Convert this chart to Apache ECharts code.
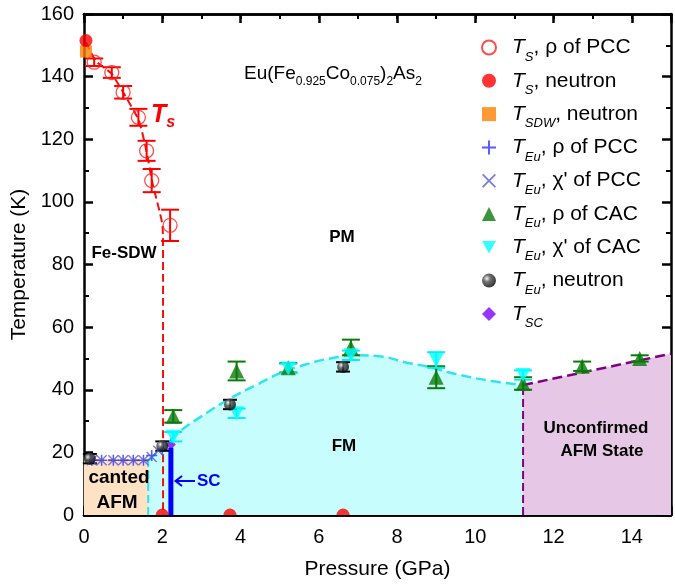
<!DOCTYPE html>
<html><head><meta charset="utf-8">
<script src="https://cdn.jsdelivr.net/npm/echarts@6/dist/echarts.min.js"></script>
<style>html,body{margin:0;padding:0;background:#fff}#c{width:675px;height:585px}</style>
</head><body><div id="c"></div>
<script>
// ---------- data ----------
const tsPccP   = [0.26, 0.71, 1.0, 1.39, 1.6, 1.73, 2.2];
const tsPccT   = [144.6, 141.3, 135, 127, 116.3, 106.8, 92.5];
const tsPccErr = [1.2, 1.7, 2, 2.7, 3.2, 3.7, 5];

const tsNeutronP = [0.05, 2.0, 3.73, 6.62];
const tsNeutronT = [151.5, 0, 0, 0];

const sdwNeutronP = [0.05];
const sdwNeutronT = [148];

const euRhoPccP = [0.2, 0.45, 0.75, 1.0, 1.26, 1.52, 1.73, 2.0];
const euRhoPccT = [17.5, 17.5, 17.5, 17.5, 17.5, 17.5, 19, 21];
const euChiPccP = [0.2, 0.45, 0.75, 1.0, 1.26, 1.52, 1.73, 1.9];
const euChiPccT = [17.5, 17.5, 17.5, 17.5, 17.5, 17.5, 18.5, 20.5];

const euRhoCacP   = [2.28, 3.9, 5.22, 6.82, 9.0, 11.22, 12.73, 14.2];
const euRhoCacT   = [31.5, 46, 47, 53.5, 44, 42, 47.5, 50];
const euRhoCacErr = [2, 3, 1.5, 2.5, 3.5, 2, 1.5, 1];

const euChiCacP   = [2.28, 3.9, 5.22, 6.82, 9.0, 11.22];
const euChiCacT   = [25, 32.5, 46.8, 51, 49.5, 44.7];
const euChiCacErr = [1.5, 1.5, 1.5, 1.5, 2.5, 1.5];

const euNeutronP   = [0.15, 2.0, 3.73, 6.62];
const euNeutronT   = [18, 22, 35.3, 47.3];
const euNeutronErr = [1.5, 1.5, 1.5, 1.5];

const scP = [2.22];
const scT = [22.5];
const scBarP = [2.22, 2.22];
const scBarT = [0, 21.5];

// phase boundaries
const tsLineP = [0.05, 0.3, 0.7, 1.0, 1.4, 1.6, 1.75, 2.0, 2.02, 2.02];
const tsLineT = [151, 145, 141, 135, 126, 116, 106, 93, 85, 0];
const fmLineP = [1.64, 2.0, 2.45, 3.0, 3.73, 4.4, 5.0, 5.7, 6.3, 7.0, 7.6, 8.2, 8.76, 9.62, 10.46, 11.22];
const fmLineT = [17.5, 21.5, 26.7, 31.5, 37.2, 41.5, 45.2, 48.2, 50, 51, 50.6, 48.8, 47.4, 44.7, 42.7, 41.5];
const cantedP = [0, 1.64];
const cantedT = [17.5, 17.5];
const cantedEdgeP = [1.64, 1.64];
const cantedEdgeT = [0, 17.5];
const unconfP = [11.22, 15];
const unconfT = [41.5, 51.5];
const unconfEdgeP = [11.22, 11.22];
const unconfEdgeT = [0, 41.5];

const xTickLabels = [0, 2, 4, 6, 8, 10, 12, 14];
const yTickLabels = [0, 20, 40, 60, 80, 100, 120, 140, 160];

// ---------- helpers ----------
const zip = (a, b) => a.map((v, i) => [v, b[i]]);
const zip3 = (a, b, c) => a.map((v, i) => [v, b[i], c[i]]);
const FONT = 'Liberation Sans, Arial, sans-serif';

function errRender(capHalf, color, lw) {
  return function (params, api) {
    const p = api.value(0), t = api.value(1), e = api.value(2);
    const a = api.coord([p, t + e]), b = api.coord([p, t - e]);
    const st = { stroke: color, lineWidth: lw };
    return { type: 'group', children: [
      { type: 'line', shape: { x1: a[0], y1: a[1], x2: b[0], y2: b[1] }, style: st },
      { type: 'line', shape: { x1: a[0] - capHalf, y1: a[1], x2: a[0] + capHalf, y2: a[1] }, style: st },
      { type: 'line', shape: { x1: b[0] - capHalf, y1: b[1], x2: b[0] + capHalf, y2: b[1] }, style: st }
    ]};
  };
}
function errSeries(P, T, E, capHalf, color, lw, z) {
  return { type: 'custom', renderItem: errRender(capHalf, color, lw), data: zip3(P, T, E),
    encode: { x: 0, y: 1 }, z: z, silent: true };
}
function boundary(P, T, color, type, width, area, smooth, z) {
  const s = { type: 'line', data: zip(P, T), symbol: 'none', smooth: smooth || false,
    lineStyle: { color: color, type: type, width: width }, z: z, silent: true };
  if (area) s.areaStyle = { color: area, opacity: 1 };
  return s;
}

const plusPath = 'path://M4.3,0 H5.7 V4.3 H10 V5.7 H5.7 V10 H4.3 V5.7 H0 V4.3 H4.3 Z';
const crossPath = 'path://M0,0.9 L0.9,0 L5,4.1 L9.1,0 L10,0.9 L5.9,5 L10,9.1 L9.1,10 L5,5.9 L0.9,10 L0,9.1 L4.1,5 Z';
const downTri = 'path://M0,0 L10,0 L5,9 Z';
const halfCircle = 'path://M0,10 A10,10 0 0,1 20,10 Z';
const sphere = { type: 'radial', x: 0.35, y: 0.35, r: 0.7,
  colorStops: [{ offset: 0, color: '#f0f0f0' }, { offset: 0.35, color: '#505050' }, { offset: 1, color: '#000' }] };

const legendText = {
  a: '{T|T}{s|S}{n|, ρ of PCC}',
  b: '{T|T}{s|S}{n|, neutron}',
  c: '{T|T}{s|SDW}{n|, neutron}',
  d: '{T|T}{s|Eu}{n|, ρ of PCC}',
  e: "{T|T}{s|Eu}{n|, χ' of PCC}",
  f: '{T|T}{s|Eu}{n|, ρ of CAC}',
  g: "{T|T}{s|Eu}{n|, χ' of CAC}",
  h: '{T|T}{s|Eu}{n|, neutron}',
  i: '{T|T}{s|SC}'
};

const axisCommon = {
  axisLine: { onZero: false, lineStyle: { color: '#000', width: 2.5 } },
  splitLine: { show: false },
};

const chart = echarts.init(document.getElementById('c'));
chart.setOption({
  animation: false,
  backgroundColor: '#fff',
  grid: { left: 84, right: 4, top: 14, bottom: 68 },
  xAxis: [
    Object.assign({ type: 'value', min: 0, max: 15, interval: 1, position: 'bottom',
      axisTick: { inside: true, length: 5, lineStyle: { width: 2, color: '#000' } },
      axisLabel: { fontSize: 20, color: '#000', fontFamily: FONT, margin: 12,
        formatter: v => (xTickLabels.indexOf(v) >= 0 ? String(v) : '') },
      name: 'Pressure (GPa)', nameLocation: 'middle', nameGap: 44,
      nameTextStyle: { fontSize: 21, color: '#000', fontFamily: FONT } }, axisCommon),
    Object.assign({ type: 'value', min: 0, max: 15, interval: 2, position: 'bottom',
      axisTick: { inside: true, length: 9, lineStyle: { width: 2.5, color: '#000' } },
      axisLabel: { show: false } }, axisCommon),
    Object.assign({ type: 'value', min: 0, max: 15, interval: 1, position: 'top',
      axisTick: { inside: true, length: 5, lineStyle: { width: 2, color: '#000' } },
      axisLabel: { show: false } }, axisCommon),
    Object.assign({ type: 'value', min: 0, max: 15, interval: 2, position: 'top',
      axisTick: { inside: true, length: 9, lineStyle: { width: 2.5, color: '#000' } },
      axisLabel: { show: false } }, axisCommon)
  ],
  yAxis: [
    Object.assign({ type: 'value', min: 0, max: 160, interval: 20, position: 'left',
      axisTick: { inside: true, length: 9, lineStyle: { width: 2.5, color: '#000' } },
      minorTick: { show: true, splitNumber: 2, length: 5, lineStyle: { width: 2, color: '#000' } },
      axisLabel: { fontSize: 20, color: '#000', fontFamily: FONT, margin: 10,
        formatter: v => (yTickLabels.indexOf(v) >= 0 ? String(v) : '') },
      name: 'Temperature (K)', nameLocation: 'middle', nameGap: 52,
      nameTextStyle: { fontSize: 21, color: '#000', fontFamily: FONT } }, axisCommon),
    Object.assign({ type: 'value', min: 0, max: 160, interval: 20, position: 'right',
      axisTick: { inside: true, length: 9, lineStyle: { width: 2.5, color: '#000' } },
      minorTick: { show: true, splitNumber: 2, length: 5, lineStyle: { width: 2, color: '#000' } },
      axisLabel: { show: false } }, axisCommon)
  ],
  legend: {
    orient: 'vertical', left: 476, top: 32, itemGap: 6.8, itemWidth: 14, itemHeight: 14,
    data: ['a', 'b', 'c', 'd', 'e', 'f', 'g', 'h', 'i'],
    formatter: n => '{sp|}' + legendText[n],
    textStyle: { color: '#000', fontFamily: FONT, rich: {
      sp: { width: 11, lineHeight: 32 },
      T: { fontSize: 21, fontStyle: 'italic', lineHeight: 32, verticalAlign: 'middle', fontFamily: FONT },
      s: { fontSize: 13, fontStyle: 'italic', lineHeight: 14, verticalAlign: 'bottom', fontFamily: FONT },
      n: { fontSize: 21, lineHeight: 32, verticalAlign: 'middle', fontFamily: FONT }
    } },
    selectedMode: false
  },
  series: [
    // phase regions and boundaries
    boundary(cantedP, cantedT, '#e08a2a', 'dashed', 2, '#fde2c4', false, 1),
    boundary(fmLineP, fmLineT, '#2fe4f0', 'dashed', 2.5, '#c8fdfd', 0.5, 1),
    boundary(unconfP, unconfT, '#800080', 'dashed', 2.5, '#e6c8e6', false, 1),
    boundary(cantedEdgeP, cantedEdgeT, '#2fe4f0', 'dashed', 2, null, false, 2),
    boundary(unconfEdgeP, unconfEdgeT, '#800080', 'dashed', 2, null, false, 2),
    boundary(tsLineP, tsLineT, '#ee1111', 'dashed', 2, null, 0.2, 2),
    boundary(scBarP, scBarT, '#0000ff', 'solid', 5, null, false, 3),
    // error bars
    errSeries(tsPccP, tsPccT, tsPccErr, 9, '#ff0000', 2, 4),
    errSeries(euRhoCacP, euRhoCacT, euRhoCacErr, 9, '#0a7a0a', 2, 4),
    errSeries(euChiCacP, euChiCacT, euChiCacErr, 9, '#00f0f0', 2, 5),
    errSeries(euNeutronP, euNeutronT, euNeutronErr, 7, '#000', 2, 6),
    // markers
    { name: 'a', type: 'scatter', data: zip(tsPccP, tsPccT), symbol: 'circle', symbolSize: 14,
      itemStyle: { color: 'rgba(255,255,255,0)', borderColor: '#ff2020', borderWidth: 1.3 }, z: 5 },
    { name: 'b', type: 'scatter', symbol: 'circle', symbolSize: 13, itemStyle: { color: '#ff0000' }, z: 6,
      data: zip(tsNeutronP, tsNeutronT).map(d => d[1] === 0
        ? { value: d, symbol: halfCircle, symbolSize: [13, 6.5], symbolOffset: [0, -3.25] } : d) },
    { name: 'c', type: 'scatter', data: zip(sdwNeutronP, sdwNeutronT), symbol: 'rect', symbolSize: 12,
      itemStyle: { color: '#ff8000' }, z: 5 },
    { name: 'd', type: 'scatter', data: zip(euRhoPccP, euRhoPccT), symbol: plusPath, symbolSize: 11,
      itemStyle: { color: '#3030ff' }, z: 6 },
    { name: 'e', type: 'scatter', data: zip(euChiPccP, euChiPccT), symbol: crossPath, symbolSize: 11,
      itemStyle: { color: '#5a5ad0' }, z: 6 },
    { name: 'f', type: 'scatter', data: zip(euRhoCacP, euRhoCacT), symbol: 'triangle', symbolSize: 15,
      itemStyle: { color: '#0a7a0a' }, z: 6 },
    { name: 'g', type: 'scatter', data: zip(euChiCacP, euChiCacT), symbol: downTri, symbolSize: [15, 14],
      itemStyle: { color: '#00ffff' }, z: 7 },
    { name: 'h', type: 'scatter', data: zip(euNeutronP, euNeutronT), symbol: 'circle', symbolSize: 12,
      itemStyle: { color: sphere }, z: 8 },
    { name: 'i', type: 'scatter', data: zip(scP, scT), symbol: 'diamond', symbolSize: 10,
      itemStyle: { color: '#8000ff' }, z: 2 }
  ],
  graphic: [
    { type: 'text', left: 244, top: 64, z: 20, style: {
      text: '{m|Eu(Fe}{s|0.925}{m|Co}{s|0.075}{m|)}{s|2}{m|As}{s|2}', fill: '#000',
      rich: { m: { fontSize: 19, lineHeight: 28, verticalAlign: 'middle', fontFamily: FONT },
              s: { fontSize: 12, lineHeight: 13, verticalAlign: 'bottom', fontFamily: FONT } } } },
    { type: 'text', left: 151, top: 103, z: 20, style: {
      text: '{m|T}{s|s}', fill: '#ff0000',
      rich: { m: { fontSize: 25, fontWeight: 'bold', fontStyle: 'italic', lineHeight: 30, verticalAlign: 'middle', fontFamily: FONT, fill: '#ff0000' },
              s: { fontSize: 16, fontWeight: 'bold', fontStyle: 'italic', lineHeight: 16, verticalAlign: 'bottom', fontFamily: FONT, fill: '#ff0000' } } } },
    { type: 'text', x: 124, y: 253, z: 20, style: { text: 'Fe-SDW', fontSize: 17, fontWeight: 'bold', fontFamily: FONT, fill: '#000', align: 'center', verticalAlign: 'middle' } },
    { type: 'text', x: 342, y: 237, z: 20, style: { text: 'PM', fontSize: 17, fontWeight: 'bold', fontFamily: FONT, fill: '#000', align: 'center', verticalAlign: 'middle' } },
    { type: 'text', x: 344, y: 446, z: 20, style: { text: 'FM', fontSize: 17, fontWeight: 'bold', fontFamily: FONT, fill: '#000', align: 'center', verticalAlign: 'middle' } },
    { type: 'text', x: 119, y: 478, z: 20, style: { text: 'canted', fontSize: 19, fontWeight: 'bold', fontFamily: FONT, fill: '#000', align: 'center', verticalAlign: 'middle' } },
    { type: 'text', x: 117, y: 503, z: 20, style: { text: 'AFM', fontSize: 19, fontWeight: 'bold', fontFamily: FONT, fill: '#000', align: 'center', verticalAlign: 'middle' } },
    { type: 'text', x: 596, y: 428, z: 20, style: { text: 'Unconfirmed', fontSize: 17, fontWeight: 'bold', fontFamily: FONT, fill: '#000', align: 'center', verticalAlign: 'middle' } },
    { type: 'text', x: 602, y: 451, z: 20, style: { text: 'AFM State', fontSize: 17, fontWeight: 'bold', fontFamily: FONT, fill: '#000', align: 'center', verticalAlign: 'middle' } },
    { type: 'text', x: 197, y: 481, z: 20, style: { text: 'SC', fontSize: 17, fontWeight: 'bold', fontFamily: FONT, fill: '#0000ff', align: 'left', verticalAlign: 'middle' } },
    { type: 'line', z: 20, shape: { x1: 176, y1: 481, x2: 195, y2: 481 }, style: { stroke: '#0000ff', lineWidth: 2 } },
    { type: 'polyline', z: 20, shape: { points: [[182, 476], [175.5, 481], [182, 486]] }, style: { stroke: '#0000ff', lineWidth: 2, fill: null } }
  ]
});
</script></body></html>
